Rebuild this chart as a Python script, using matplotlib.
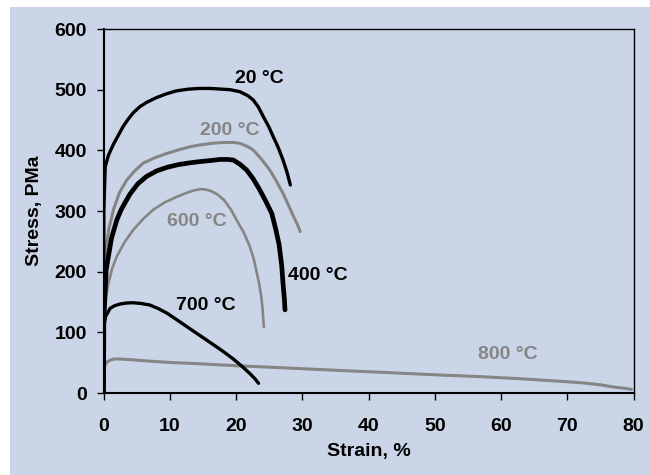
import matplotlib
matplotlib.use("Agg")
import matplotlib.pyplot as plt
from matplotlib.patches import Rectangle

plt.rcParams["font.family"] = ["Liberation Sans", "DejaVu Sans"]
plt.rcParams["font.weight"] = "bold"

BG = "#cbd5e8"
GREY = "#858585"

# stress-strain curves (strain %, stress MPa)
s20_x = [0, 0.05, 0.26, 0.75, 1.5, 2.3, 3.0, 3.7, 4.5, 5.5, 6.5, 8.0, 9.6, 11.0, 12.6, 14.3, 16.1,
         17.6, 19.1, 20.6, 21.8, 22.6, 23.4, 24.1, 24.9, 25.6, 26.4, 27.1, 27.7, 28.2]
s20_y = [0, 300, 373, 392, 410, 426, 440, 451, 462, 472, 479, 487, 493.5, 498, 500.6, 502, 502,
         501, 500, 496.6, 490, 483, 471, 456, 440, 423, 404, 384, 364, 343]

s200_x = [0, 0.05, 0.4, 0.8, 1.5, 2.4, 3.5, 4.7, 6.0, 7.8, 9.6, 11.4, 13.1, 14.6, 16.0, 17.3, 18.5,
          19.6, 20.6, 21.8, 22.6, 23.8, 25.1, 26.1, 27.1, 27.9, 28.7, 29.3, 29.7]
s200_y = [0, 180, 240, 270, 302, 330, 351, 366, 379, 388, 395, 401, 406, 409, 411, 412.5, 413,
          413, 411.5, 406, 400.5, 386, 367.6, 349, 329, 310, 290.6, 277, 266]

s400_x = [0, 0.05, 0.4, 1.2, 2.0, 2.7, 4.0, 5.2, 6.5, 8.0, 9.6, 11.3, 13.1, 14.6, 16.0, 17.6,
          18.7, 19.6, 20.6, 21.6, 22.6, 23.6, 24.5, 25.4, 26.0, 26.5, 26.9, 27.1, 27.3, 27.4]
s400_y = [0, 120, 203, 255, 285, 303, 328, 345, 357, 366, 372, 376.5, 379.5, 381.5, 383, 385,
          385, 384, 377, 367.6, 353, 334.6, 316, 296, 270, 245, 210, 180, 155, 137]

s600_x = [0, 0.05, 0.26, 0.75, 1.3, 2.0, 3.2, 4.5, 6.0, 7.5, 9.2, 11.1, 12.8, 13.7, 14.6, 15.4,
          16.2, 17.1, 18.2, 19.2, 20.1, 21.2, 22.1, 22.7, 23.1, 23.5, 23.8, 24.0, 24.2]
s600_y = [0, 120, 153, 181, 205, 225, 249, 269, 287, 302, 314, 323.5, 331, 334, 336, 335.5,
          333, 328, 318, 303, 285, 264, 241, 220, 200, 180, 160, 140, 109]

s700_x = [0, 0.05, 0.3, 1.0, 1.7, 2.5, 3.5, 4.5, 5.7, 7.0, 8.3, 9.6, 11.3, 13.1, 15.6, 18.0,
          19.6, 21.0, 22.1, 22.9, 23.4]
s700_y = [0, 110, 126, 139.6, 144, 146.7, 148.3, 148.8, 147.5, 145, 139, 131.5, 119, 105.5, 87, 69,
          56, 43, 32, 23, 16]

s800_x = [0, 0.05, 0.2, 0.5, 1.0, 1.6, 2.5, 4.0, 7.0, 10.6, 13.0, 20.0, 28.2, 35.0, 43.2, 50.0,
          56.8, 63.0, 69.4, 72.5, 75.0, 76.9, 78.5, 79.7]
s800_y = [0, 35, 46, 51, 54, 56, 56, 55, 52.5, 50, 49, 45, 41, 37.5, 33.5, 30,
          27, 23.5, 19, 16.5, 13.5, 10, 8, 6]

labels = ["20 °C", "200 °C", "400 °C", "600 °C", "700 °C", "800 °C"]
label_x = [23.6, 19.0, 32.4, 14.1, 15.5, 61.0]
label_y = [518, 432, 194, 282, 145, 63]

x_ticks = [0, 10, 20, 30, 40, 50, 60, 70, 80]
y_ticks = [0, 100, 200, 300, 400, 500, 600]

fig = plt.figure(figsize=(6.5, 4.75), dpi=100)
fig.patch.set_facecolor("white")
fig.patches.append(Rectangle((10 / 650, 0), 1, 1 - 7 / 475, transform=fig.transFigure,
                             facecolor=BG, edgecolor="none", zorder=-10))
ax = fig.add_axes([103.5 / 650, 1 - 393 / 475, 530 / 650, 364 / 475])
ax.set_facecolor(BG)

style = dict(solid_capstyle="round", solid_joinstyle="round")
ax.plot(s800_x, s800_y, color=GREY, lw=2.2, **style)
ax.plot(s600_x, s600_y, color=GREY, lw=1.9, **style)
ax.plot(s200_x, s200_y, color=GREY, lw=2.2, **style)
ax.plot(s700_x, s700_y, color="black", lw=2.4, **style)
ax.plot(s400_x, s400_y, color="black", lw=3.4, **style)
ax.plot(s20_x, s20_y, color="black", lw=2.4, **style)

colors = ["black", GREY, "black", GREY, "black", GREY]
for t, x, y, c in zip(labels, label_x, label_y, colors):
    ax.text(x, y, t, color=c, fontsize=14, fontweight="bold", ha="center", va="center")

ax.set_xlim(0, 80)
ax.set_ylim(0, 600)
ax.set_xticks(x_ticks)
ax.set_yticks(y_ticks)
ax.tick_params(axis="x", direction="out", length=5, width=1, pad=13, labelsize=14)
ax.tick_params(axis="y", direction="out", length=5, width=1, pad=7, labelsize=14)
for t in ax.get_xticklabels() + ax.get_yticklabels():
    t.set_fontweight("bold")
for side in ["left", "bottom"]:
    ax.spines[side].set_linewidth(1.5)
for side in ["top", "right"]:
    ax.spines[side].set_linewidth(1.0)

ax.set_xlabel("Strain, %", fontsize=14, fontweight="bold", labelpad=6)
ax.set_ylabel("Stress, PMa", fontsize=14, fontweight="bold", labelpad=8)

fig.savefig("out.png", dpi=100, facecolor=fig.get_facecolor())
